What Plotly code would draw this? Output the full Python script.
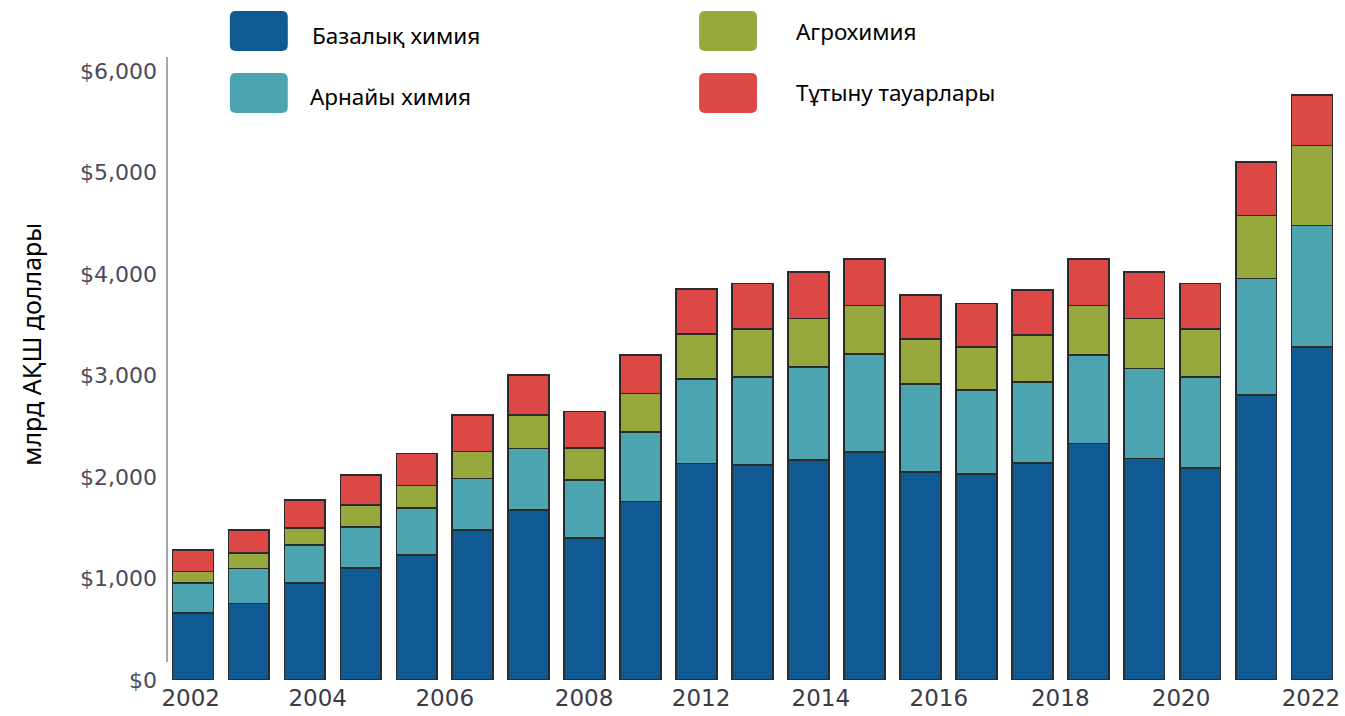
import plotly.graph_objects as go

years = list(range(2002, 2023))
basic = [659, 754, 954, 1101, 1229, 1478, 1675, 1396, 1757, 2131, 2121, 2166, 2249, 2052, 2032, 2134, 2330, 2183, 2085, 2805, 3281]
specialty = [295, 344, 373, 406, 462, 508, 606, 574, 688, 836, 865, 919, 963, 865, 822, 799, 869, 885, 901, 1148, 1196]
agro = [115, 151, 168, 217, 226, 266, 328, 314, 377, 438, 472, 475, 478, 443, 427, 462, 491, 492, 472, 622, 787]
consumer = [212, 229, 275, 292, 315, 357, 397, 361, 381, 449, 446, 459, 459, 429, 426, 443, 459, 459, 446, 525, 498]

series_names = ["Базалық химия", "Арнайы химия", "Агрохимия", "Тұтыну тауарлары"]
series_values = [basic, specialty, agro, consumer]
colors = ["#105a93", "#4ca4b0", "#97a83c", "#dc4845"]

x_tick_labels = ["2002", "2004", "2006", "2008", "2012", "2014", "2016", "2018", "2020", "2022"]
x_tick_pos = [2001.96, 2004.23, 2006.5, 2008.99, 2011.08, 2013.22, 2015.33, 2017.5, 2019.66, 2021.98]
y_ticks = [0, 1000, 2000, 3000, 4000, 5000, 6000]

W, H = 1345, 716
L, R, T, B = 167, 5, 57, 35
pw, ph = W - L - R, H - T - B

def px(xp):
    return (xp - L) / pw

def py(yp):
    return (H - B - yp) / ph

fig = go.Figure()
for name, vals, col in zip(series_names, series_values, colors):
    fig.add_trace(go.Bar(
        x=years, y=vals, name=name, width=0.73,
        marker=dict(color=col, line=dict(color="#2b2b2b", width=1.7)),
        showlegend=False,
    ))

shapes = []
annotations = []

# y axis line
shapes.append(dict(type="line", xref="paper", yref="paper", x0=0, x1=0,
                   y0=py(663), y1=py(57), line=dict(color="#8a8a8a", width=1.5)))

def rounded_rect(x0p, y0p, x1p, y1p, r=6):
    X0, X1 = px(x0p), px(x1p)
    Y0, Y1 = py(y1p), py(y0p)  # Y0 bottom, Y1 top
    rx, ry = r / pw, r / ph
    return (f"M {X0+rx},{Y0} L {X1-rx},{Y0} Q {X1},{Y0} {X1},{Y0+ry} "
            f"L {X1},{Y1-ry} Q {X1},{Y1} {X1-rx},{Y1} L {X0+rx},{Y1} "
            f"Q {X0},{Y1} {X0},{Y1-ry} L {X0},{Y0+ry} Q {X0},{Y0} {X0+rx},{Y0} Z")

legend_boxes = [(230, 11, 288, 51), (230, 73, 288, 113), (700, 11, 758, 51), (700, 73, 758, 113)]
legend_text_pos = [(310, 35), (308, 97), (795, 31), (795, 93)]
for (bx0, by0, bx1, by1), (tx, ty), name, col in zip(legend_boxes, legend_text_pos, series_names, colors):
    shapes.append(dict(type="path", xref="paper", yref="paper",
                       path=rounded_rect(bx0, by0, bx1, by1),
                       fillcolor=col, line=dict(width=0)))
    annotations.append(dict(text=name, xref="paper", yref="paper", x=px(tx), y=py(ty),
                            xanchor="left", yanchor="middle", showarrow=False,
                            font=dict(family="Noto Sans", size=22.5, color="#000000")))

annotations.append(dict(text="млрд АҚШ доллары", xref="paper", yref="paper",
                        x=px(30), y=py(345), textangle=-90, showarrow=False,
                        xanchor="center", yanchor="middle",
                        font=dict(family="Noto Sans", size=25, color="#000000")))

fig.update_layout(
    width=W, height=H,
    margin=dict(l=L, r=R, t=T, b=B, pad=0),
    barmode="stack",
    plot_bgcolor="white", paper_bgcolor="white",
    shapes=shapes, annotations=annotations,
    xaxis=dict(range=[2001.536, 2022.464], tickmode="array", tickvals=x_tick_pos,
               ticktext=x_tick_labels, showgrid=False, zeroline=False, showline=False,
               ticks="", ticklabelstandoff=2,
               tickfont=dict(family="DejaVu Sans", size=23, color="#3a3a48")),
    yaxis=dict(range=[0, 6136], tickmode="array", tickvals=y_ticks,
               ticktext=[f"${v:,}" for v in y_ticks], showgrid=False, zeroline=False,
               showline=False, ticks="", ticklabelstandoff=9,
               tickfont=dict(family="DejaVu Sans", size=22, color="#4a4a5c")),
)

fig.write_html("out.html", config={"displayModeBar": False},
               post_script="document.body.style.margin='0';document.body.style.overflow='hidden';")
